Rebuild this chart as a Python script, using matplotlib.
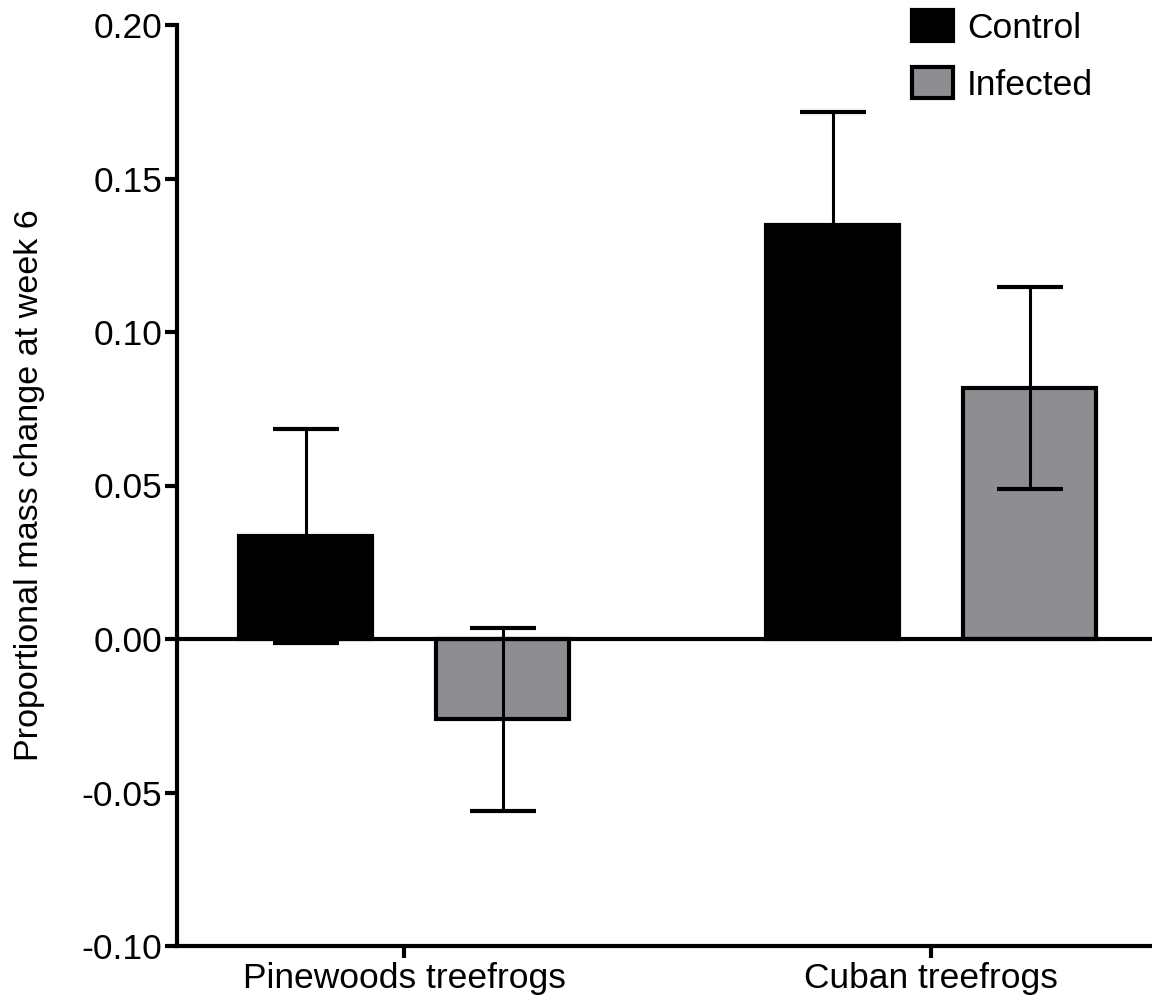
import matplotlib
matplotlib.use("Agg")
import matplotlib.pyplot as plt
import numpy as np

groups = ["Pinewoods treefrogs", "Cuban treefrogs"]
series = ["Control", "Infected"]
means = {"Control": [0.0336, 0.1349], "Infected": [-0.0262, 0.0818]}
errs = {"Control": [0.0348, 0.0368], "Infected": [0.0298, 0.0328]}
colors = {"Control": "#000000", "Infected": "#8e8d92"}
yticks = [-0.10, -0.05, 0.00, 0.05, 0.10, 0.15, 0.20]

plt.rcParams['font.family'] = ['Liberation Sans', 'DejaVu Sans']

fig = plt.figure(figsize=(11.52, 10), dpi=100)
ax = fig.add_axes([177/1152, 0.054, 1 - 177/1152, 0.921])

x = np.arange(len(groups))
width = 0.252
offsets = {"Control": -0.187, "Infected": 0.187}
for s in series:
    ax.bar(x + offsets[s], means[s], width, color=colors[s], edgecolor='black',
           linewidth=3, label=s, zorder=2)
    ax.errorbar(x + offsets[s], means[s], yerr=errs[s], fmt='none', ecolor='black',
                elinewidth=2.2, capsize=24, capthick=3, zorder=3)

ax.axhline(0, color='black', linewidth=3, zorder=4)
ax.set_xlim(-0.431, 1.419)
ax.set_ylim(-0.10, 0.20)
ax.set_yticks(yticks)
ax.set_yticklabels([f"{v:.2f}" for v in yticks])
ax.set_xticks(x)
ax.set_xticklabels(groups)
for sp in ['top', 'right']:
    ax.spines[sp].set_visible(False)
for sp in ['left', 'bottom']:
    ax.spines[sp].set_linewidth(3)
ax.tick_params(axis='both', width=3, length=8.6, labelsize=25.5, pad=2)
ax.tick_params(axis='x', pad=3)
ax.set_ylabel("Proportional mass change at week 6", fontsize=24.6, labelpad=26)

leg = ax.legend(loc='upper left', bbox_to_anchor=(0.754, 1.0167), frameon=False,
                fontsize=25.5, handlelength=1.15, handleheight=1.0, handletextpad=0.4,
                labelspacing=0.62, borderaxespad=0.0, borderpad=0.0)
for h in leg.legend_handles:
    h.set_linewidth(3)

fig.savefig("out.png", dpi=100)
